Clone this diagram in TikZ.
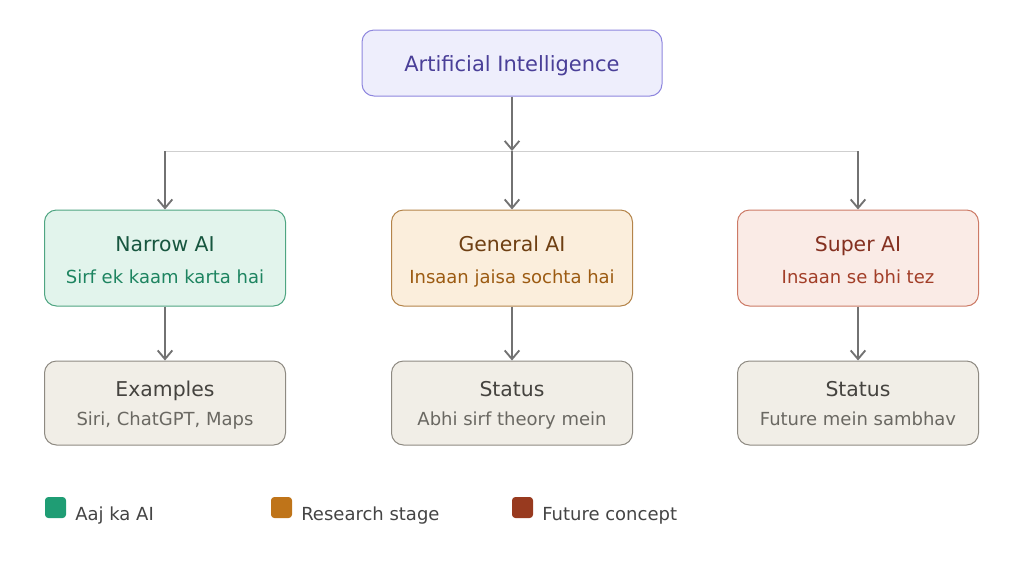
\documentclass[tikz,border=0pt]{standalone}
\usepackage{fontspec}
\setmainfont{DejaVu Sans}
\usetikzlibrary{arrows.meta}
\definecolor{topfill}{HTML}{EEEEFC}
\definecolor{topdraw}{HTML}{8E86DE}
\definecolor{toptext}{HTML}{4A3F98}
\definecolor{nfill}{HTML}{E2F4EC}
\definecolor{ndraw}{HTML}{4FA582}
\definecolor{ntitle}{HTML}{17563F}
\definecolor{nsub}{HTML}{1D8460}
\definecolor{gfill}{HTML}{FBEEDC}
\definecolor{gdraw}{HTML}{B4844A}
\definecolor{gtitle}{HTML}{6E3F12}
\definecolor{gsub}{HTML}{9C5B12}
\definecolor{sfill}{HTML}{FAEBE6}
\definecolor{sdraw}{HTML}{CC7A66}
\definecolor{stitle}{HTML}{843020}
\definecolor{ssub}{HTML}{A23E28}
\definecolor{bfill}{HTML}{F1EEE7}
\definecolor{bdraw}{HTML}{8E8A82}
\definecolor{btitle}{HTML}{45433F}
\definecolor{bsub}{HTML}{6A6862}
\definecolor{arrowc}{HTML}{727272}
\definecolor{linec}{HTML}{CFCFCF}
\definecolor{lgreen}{HTML}{1F9D74}
\definecolor{lorange}{HTML}{BF7419}
\definecolor{lred}{HTML}{983A1F}
\definecolor{legtext}{HTML}{444444}
\tikzset{
  box/.style={draw, rounded corners=9pt, line width=0.75pt, minimum width=180.75pt, minimum height=72pt, inner sep=0pt},
  lowbox/.style={box, minimum height=63pt, fill=bfill, draw=bdraw},
  conn/.style={draw=arrowc, line width=1.8pt, -{Straight Barb[length=6.5pt,width=11pt,line width=1.4pt]}},
  ttl/.style={font=\fontsize{15.3}{18}\selectfont, anchor=base, inner sep=0pt},
  sub/.style={font=\fontsize{13.5}{16}\selectfont, anchor=base, inner sep=0pt},
  legsq/.style={rounded corners=2.5pt, minimum size=15.75pt, inner sep=0pt},
  legtx/.style={font=\fontsize{13.5}{16}\selectfont, text=legtext, anchor=base west, inner sep=0pt}
}
\begin{document}
\begin{tikzpicture}[x=0.75pt, y=-0.75pt]
\useasboundingbox (0,0) rectangle (1024,572);
% top
\node[box, fill=topfill, draw=topdraw, minimum width=225pt, minimum height=49.5pt] (ai) at (512,63) {};
\node[ttl, text=toptext, font=\fontsize{15.75}{18}\selectfont] (ait) at (512,71) {Artificial Intelligence};
% junctions
\coordinate (jl) at (165,151);
\coordinate (jm) at (512,151);
\coordinate (jr) at (858,151);
\draw[linec, line width=0.75pt] (jl) -- (jr);
% row 2
\node[box, fill=nfill, draw=ndraw] (na) at (165,258) {};
\node[box, fill=gfill, draw=gdraw] (ga) at (512,258) {};
\node[box, fill=sfill, draw=sdraw] (sa) at (858,258) {};
\node[ttl, text=ntitle] (nat) at (165,251) {Narrow AI};
\node[sub, text=nsub] (nas) at (165,283) {Sirf ek kaam karta hai};
\node[ttl, text=gtitle] (gat) at (512,251) {General AI};
\node[sub, text=gsub] (gas) at (512,283) {Insaan jaisa sochta hai};
\node[ttl, text=stitle] (sat) at (858,251) {Super AI};
\node[sub, text=ssub] (sas) at (858,283) {Insaan se bhi tez};
% row 3
\node[lowbox] (ex) at (165,403) {};
\node[lowbox] (gs) at (512,403) {};
\node[lowbox] (ss) at (858,403) {};
\node[ttl, text=btitle] (ext) at (165,396) {Examples};
\node[sub, text=bsub] (exs) at (165,425.5) {Siri, ChatGPT, Maps};
\node[ttl, text=btitle] (gst) at (512,396) {Status};
\node[sub, text=bsub] (gss) at (512,425.5) {Abhi sirf theory mein};
\node[ttl, text=btitle] (sst) at (858,396) {Status};
\node[sub, text=bsub] (sss) at (858,425.5) {Future mein sambhav};
% arrows
\draw[conn] (ai.south) -- (jm);
\draw[conn] (jm) -- (ga.north);
\draw[conn] (jl) -- (na.north);
\draw[conn] (jr) -- (sa.north);
\draw[conn] (na.south) -- (ex.north);
\draw[conn] (ga.south) -- (gs.north);
\draw[conn] (sa.south) -- (ss.north);
% legend
\node[legsq, fill=lgreen] (lg) at (55.5,507.5) {};
\node[legsq, fill=lorange] (lo) at (281.5,507.5) {};
\node[legsq, fill=lred] (lr) at (522.5,507.5) {};
\node[legtx] (lgt) at (75,520) {Aaj ka AI};
\node[legtx] (lot) at (301,520) {Research stage};
\node[legtx] (lrt) at (542,520) {Future concept};
\end{tikzpicture}
\end{document}
